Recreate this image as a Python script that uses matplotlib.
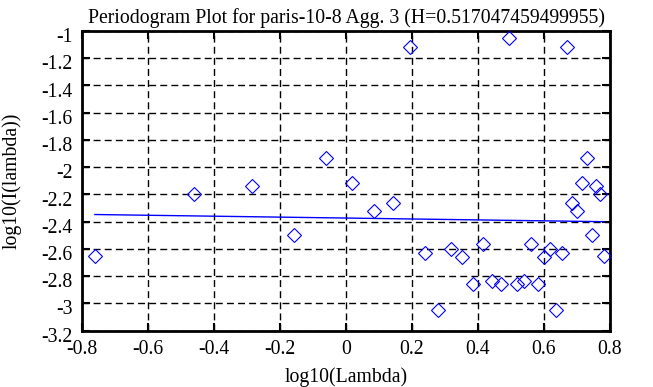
import numpy as np
import matplotlib
matplotlib.use("Agg")
import matplotlib.pyplot as plt
from matplotlib.transforms import ScaledTranslation

# Data (log10 frequency vs log10 periodogram)
log_lambda = [-0.761, -0.460, -0.284, -0.159, -0.062, 0.017, 0.084, 0.142,
              0.193, 0.239, 0.280, 0.318, 0.353, 0.385, 0.415, 0.443,
              0.469, 0.494, 0.518, 0.540, 0.561, 0.581, 0.601, 0.619,
              0.637, 0.654, 0.670, 0.686, 0.701, 0.716, 0.730, 0.744,
              0.757, 0.770, 0.783]
log_I = [-2.653, -2.195, -2.135, -2.499, -1.935, -2.120, -2.320, -2.267,
         -1.120, -2.633, -3.048, -2.602, -2.661, -2.859, -2.565, -2.835,
         -2.860, -1.054, -2.860, -2.835, -2.565, -2.859, -2.661, -2.602,
         -3.048, -2.633, -1.120, -2.267, -2.320, -2.120, -1.935, -2.499,
         -2.135, -2.195, -2.653]

H = 0.517047459499955
fit_slope = 1 - 2 * H
fit_intercept = -2.374

x_ticks = [-0.8, -0.6, -0.4, -0.2, 0, 0.2, 0.4, 0.6, 0.8]
y_ticks = [-1, -1.2, -1.4, -1.6, -1.8, -2, -2.2, -2.4, -2.6, -2.8, -3, -3.2]

plt.rcParams['font.family'] = ['Liberation Serif', 'DejaVu Serif']
FS = 14.2

fig = plt.figure(figsize=(6.53, 3.87), dpi=100)
ax = fig.add_axes([82/653, 1 - 330.5/387, (610 - 82)/653, (330.5 - 31)/387])

ax.plot(log_lambda, log_I, linestyle='none', marker='D', markersize=7.4,
        markerfacecolor='none', markeredgecolor='#0000ff', markeredgewidth=0.8,
        zorder=3)

xl = np.array([min(log_lambda), max(log_lambda)])
ax.plot(xl, fit_intercept + fit_slope * xl, color='#0000ff', linewidth=1.0, zorder=2)

ax.set_xlim(-0.8, 0.8)
ax.set_ylim(-3.2, -1)
ax.set_xticks(x_ticks)
ax.set_yticks(y_ticks)
ax.set_xticklabels([f"{t:g}" for t in x_ticks])
ax.set_yticklabels([f"{t:g}" for t in y_ticks])

ax.grid(True, color='black', linestyle=(0, (5, 3)), linewidth=1.0)
ax.set_axisbelow(True)
ax.tick_params(direction='in', length=6, width=1.5, top=True, right=True,
               labelsize=FS, colors='black')
ax.tick_params(axis='x', pad=7)
ax.tick_params(axis='y', pad=7)
off = ScaledTranslation(0, -3/72, fig.dpi_scale_trans)
for lab in ax.get_yticklabels():
    lab.set_transform(lab.get_transform() + off)
for s in ax.spines.values():
    s.set_linewidth(2)
    s.set_color('black')

ax.set_title("Periodogram Plot for paris-10-8 Agg. 3 (H=0.517047459499955)",
             fontsize=FS, pad=6)
ax.set_xlabel("log10(Lambda)", fontsize=FS, labelpad=6)
ax.set_ylabel("log10(I(lambda))", fontsize=FS, labelpad=14)

fig.savefig("out.png", dpi=100)
